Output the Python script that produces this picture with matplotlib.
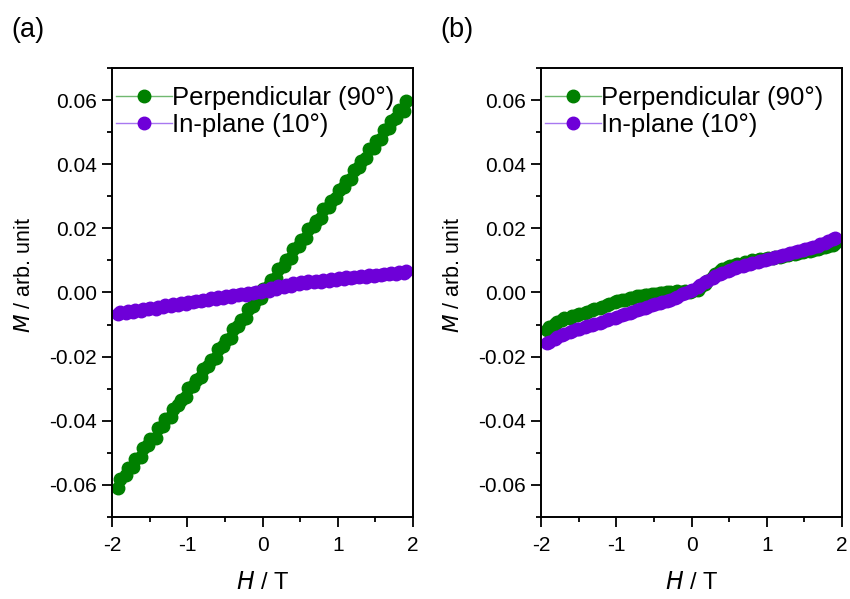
import numpy as np
import matplotlib.pyplot as plt
from matplotlib.ticker import MultipleLocator, FuncFormatter

plt.rcParams['font.family'] = ['Liberation Sans', 'DejaVu Sans']
plt.rcParams['axes.unicode_minus'] = False

# field sweeps (T): up then down
h_up = [-1.92, -1.82, -1.72, -1.62, -1.52, -1.42, -1.32, -1.22, -1.12, -1.02,
        -0.92, -0.82, -0.72, -0.62, -0.52, -0.42, -0.32, -0.22, -0.12, -0.02,
        0.08, 0.18, 0.28, 0.38, 0.48, 0.58, 0.68, 0.78, 0.88, 0.98,
        1.08, 1.18, 1.28, 1.38, 1.48, 1.58, 1.68, 1.78, 1.88]
h_dn = [1.91, 1.81, 1.71, 1.61, 1.51, 1.41, 1.31, 1.21, 1.11, 1.01,
        0.91, 0.81, 0.71, 0.61, 0.51, 0.41, 0.31, 0.21, 0.11, 0.01,
        -0.09, -0.19, -0.29, -0.39, -0.49, -0.59, -0.69, -0.79, -0.89, -0.99,
        -1.09, -1.19, -1.29, -1.39, -1.49, -1.59, -1.69, -1.79, -1.89]

# panel (a), M in units of 1e-3
a_perp_up = [-61.0, -57.0, -54.5, -51.2, -47.5, -45.3, -41.5, -38.9, -35.2, -32.6,
             -29.0, -26.5, -22.8, -20.3, -16.6, -14.1, -10.4, -7.9, -4.3, -1.6,
             1.9, 4.5, 8.2, 10.7, 14.5, 16.9, 20.6, 23.2, 26.8, 29.5,
             33.0, 35.4, 39.1, 41.8, 45.2, 48.0, 51.3, 54.3, 56.6]
a_perp_dn = [59.6, 56.9, 53.4, 50.8, 47.2, 44.6, 41.0, 38.3, 34.8, 32.1,
             28.5, 26.0, 22.4, 19.8, 16.3, 13.5, 10.1, 7.2, 3.9, 1.0,
             -2.3, -5.1, -8.6, -11.3, -14.8, -17.6, -21.0, -23.7, -27.2, -29.9,
             -33.4, -36.2, -39.6, -42.4, -45.8, -48.6, -52.0, -54.8, -58.0]
a_inpl_up = [-6.7, -6.4, -6.0, -5.7, -5.2, -5.0, -4.5, -4.3, -3.8, -3.5,
             -3.0, -2.8, -2.3, -2.1, -1.6, -1.4, -0.9, -0.7, -0.3, 0.1,
             0.5, 1.0, 1.6, 2.1, 2.5, 2.9, 3.2, 3.4, 3.7, 3.9,
             4.2, 4.4, 4.7, 4.9, 5.2, 5.4, 5.7, 5.9, 6.2]
a_inpl_dn = [6.6, 6.4, 6.1, 5.9, 5.6, 5.4, 5.2, 4.9, 4.7, 4.4,
             4.2, 3.9, 3.7, 3.5, 3.3, 2.9, 2.4, 1.9, 1.3, 0.8,
             0.3, -0.1, -0.4, -0.8, -1.1, -1.5, -1.8, -2.2, -2.6, -2.9,
             -3.3, -3.6, -4.0, -4.4, -4.7, -5.1, -5.4, -5.8, -6.2]

# panel (b)
b_perp_up = [-11.6, -9.9, -8.5, -7.8, -7.1, -6.3, -5.6, -4.8, -4.0, -3.1,
             -2.4, -1.8, -1.2, -0.8, -0.5, -0.3, 0.0, 0.3, 0.3, 0.1,
             0.9, 2.6, 4.8, 6.8, 7.9, 8.5, 9.0, 9.6, 10.1, 10.4,
             10.8, 11.2, 11.6, 12.0, 12.5, 13.0, 13.5, 14.1, 14.9]
b_perp_dn = [15.4, 14.6, 13.9, 13.4, 12.9, 12.4, 12.0, 11.5, 11.1, 10.7,
             10.4, 10.0, 9.5, 9.0, 8.3, 7.4, 5.9, 3.7, 1.6, 0.4,
             0.5, 0.4, 0.1, -0.1, -0.4, -0.7, -1.1, -1.7, -2.2, -2.8,
             -3.6, -4.4, -5.2, -6.0, -6.7, -7.4, -8.1, -9.2, -10.8]
b_inpl_up = [-15.6, -14.4, -13.3, -12.3, -11.5, -10.9, -10.2, -9.4, -8.6, -7.9,
             -7.1, -6.3, -5.5, -4.7, -3.9, -3.2, -2.5, -1.7, -0.6, 0.5,
             1.8, 3.2, 4.6, 5.9, 6.8, 7.5, 8.2, 8.9, 9.5, 10.1,
             10.7, 11.3, 12.0, 12.6, 13.2, 13.9, 14.6, 15.5, 16.6]
b_inpl_dn = [17.0, 15.9, 15.0, 14.2, 13.5, 12.9, 12.3, 11.6, 11.0, 10.4,
             9.8, 9.2, 8.5, 7.8, 7.1, 6.2, 5.0, 3.6, 2.3, 0.9,
             -0.2, -1.3, -2.2, -3.0, -3.7, -4.4, -5.2, -6.0, -6.8, -7.6,
             -8.4, -9.1, -9.9, -10.6, -11.3, -12.0, -12.9, -14.0, -15.3]

h = np.array(h_up + h_dn)
panels = [
    ("(a)", np.array(a_perp_up + a_perp_dn) * 1e-3, np.array(a_inpl_up + a_inpl_dn) * 1e-3),
    ("(b)", np.array(b_perp_up + b_perp_dn) * 1e-3, np.array(b_inpl_up + b_inpl_dn) * 1e-3),
]

green, green_l = "#008000", "#70b870"
purple, purple_l = "#6e00d8", "#a878f0"

fig = plt.figure(figsize=(8.5, 5.99), dpi=100)
lefts = [0.1318, 0.6365]

for (tag, m_perp, m_inpl), left in zip(panels, lefts):
    ax = fig.add_axes([left, 0.1369, 0.3541, 0.7496])
    ax.plot(h, m_perp, "-o", color=green_l, lw=1, mfc=green, mec=green, ms=9,
            label="Perpendicular (90°)")
    ax.plot(h, m_inpl, "-o", color=purple_l, lw=1, mfc=purple, mec=purple, ms=9,
            label="In-plane (10°)")

    ax.set_xlim(-2, 2)
    ax.set_ylim(-0.07, 0.07)
    ax.xaxis.set_major_locator(MultipleLocator(1))
    ax.xaxis.set_minor_locator(MultipleLocator(0.5))
    ax.yaxis.set_major_locator(MultipleLocator(0.02))
    ax.yaxis.set_minor_locator(MultipleLocator(0.01))
    ax.xaxis.set_major_formatter(FuncFormatter(lambda v, p: f"{round(v):d}"))
    ax.yaxis.set_major_formatter(FuncFormatter(
        lambda v, p: "0.00" if abs(v) < 1e-9 else f"{v:.2f}"))
    ax.tick_params(which="major", direction="out", length=7, width=1.3,
                   labelsize=15)
    ax.tick_params(axis="x", which="major", pad=7)
    ax.tick_params(axis="y", which="major", pad=4)
    ax.tick_params(which="minor", direction="out", length=3.6, width=1.3)
    for s in ax.spines.values():
        s.set_linewidth(1.4)

    ax.set_xlabel("$\\it{H}$ / T", fontsize=17, labelpad=12)
    ax.set_ylabel("$\\it{M}$ / arb. unit", fontsize=15.5)
    ax.yaxis.set_label_coords(-0.255, 0.539)

    ax.legend(loc="upper left", bbox_to_anchor=(-0.005, 0.971), frameon=False,
              fontsize=18.5, handlelength=2.2, handletextpad=0.0,
              labelspacing=0.12, borderaxespad=0.0, borderpad=0.2)

    fig.text(left - 0.118, 0.95, tag, fontsize=19.5, va="center", ha="left")

fig.savefig("out.png", dpi=100)
